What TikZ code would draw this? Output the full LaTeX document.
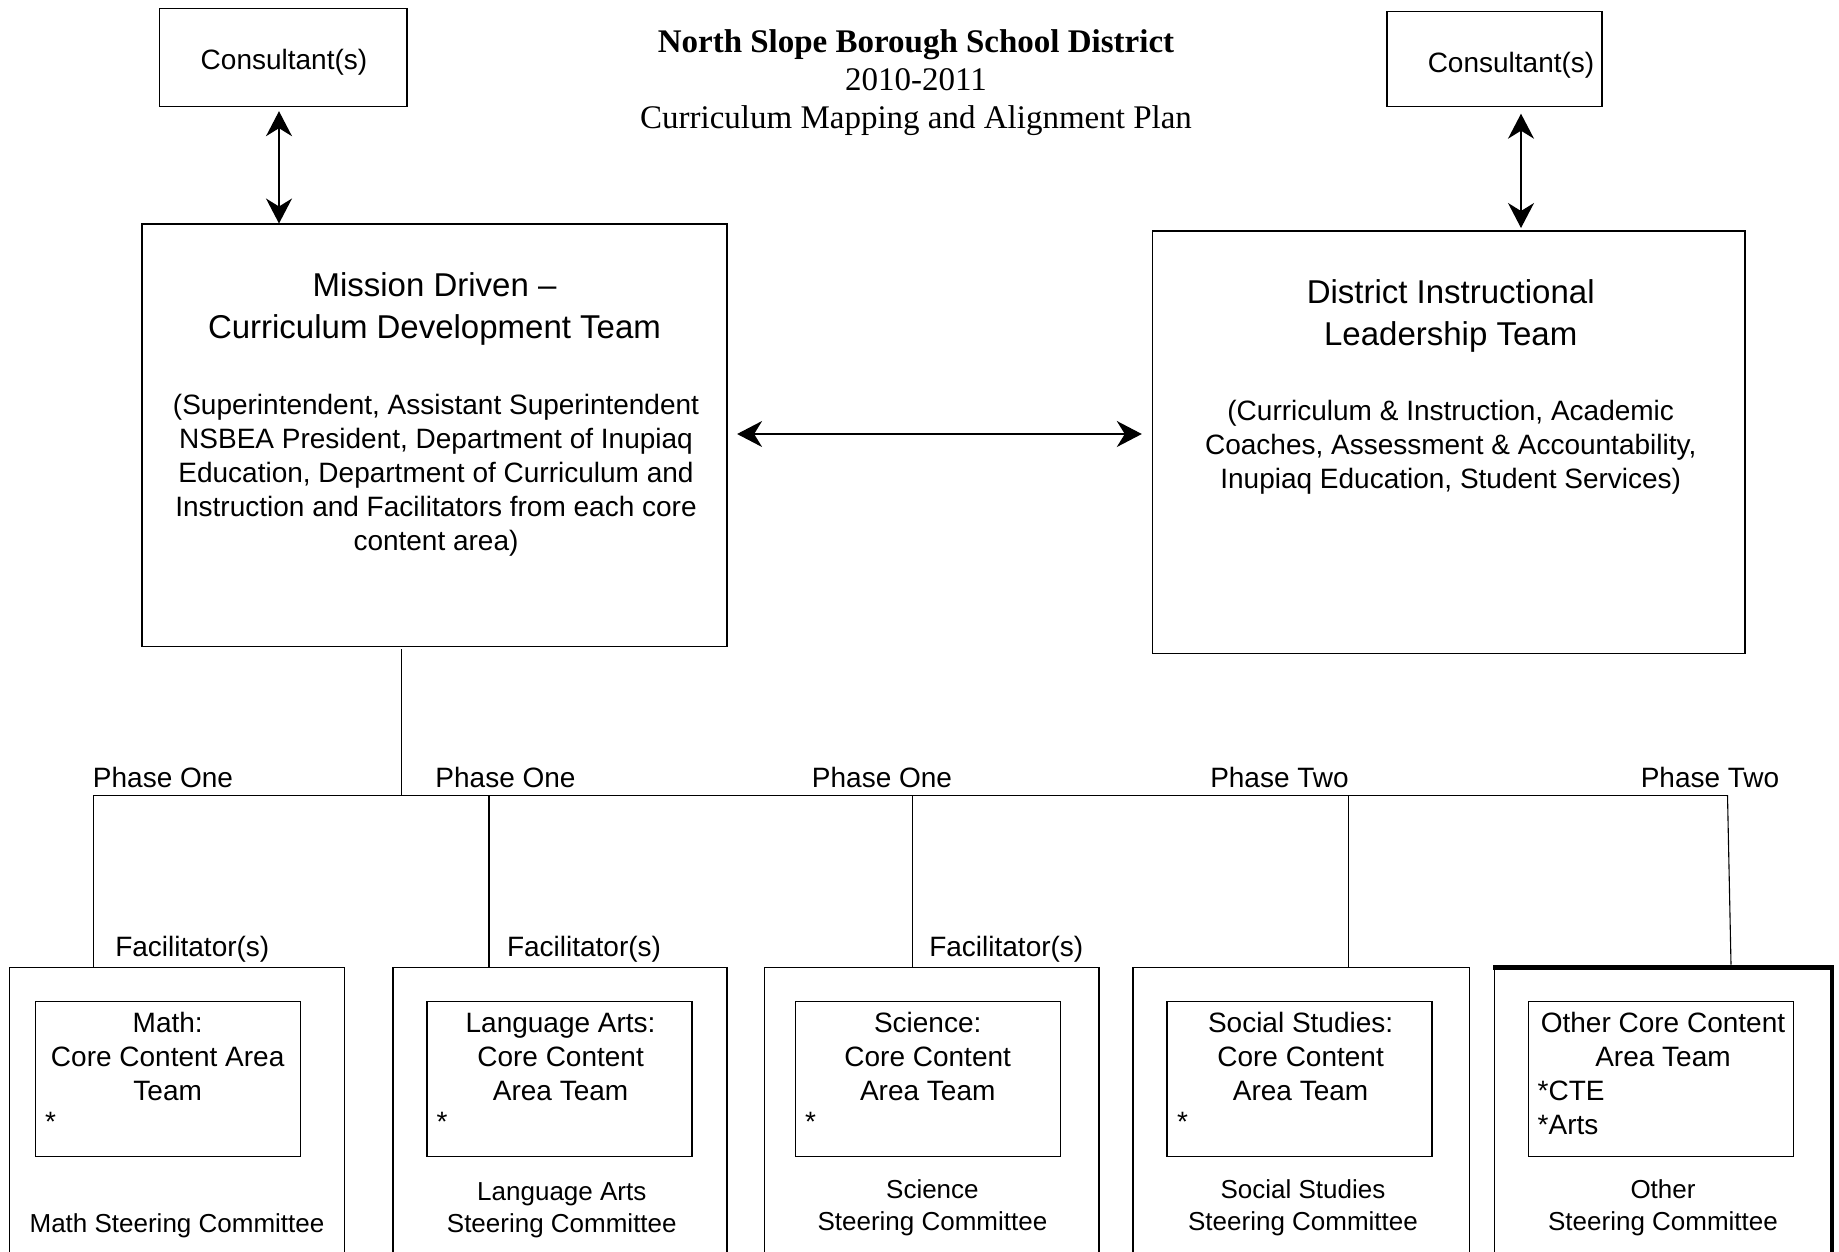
\documentclass[tikz,border=0pt]{standalone}
\usepackage{fontspec}
\setmainfont{Liberation Sans}
\newfontfamily\titlefam{Liberation Serif}
\usetikzlibrary{arrows.meta}
\newcommand{\hdrfont}{\fontsize{33}{42}\selectfont}
\newcommand{\txtfont}{\fontsize{28}{34}\selectfont}
\newcommand{\cmtfont}{\fontsize{26}{32}\selectfont}
\newcommand{\ttlfont}{\titlefam\fontsize{33}{38}\selectfont}
\tikzset{
  box/.style={draw, line width=1.3pt, inner sep=0pt, outer sep=0pt, anchor=north west},
  lbl/.style={font=\txtfont, inner sep=0pt, align=center},
  cmt/.style={font=\cmtfont, inner sep=0pt, align=center},
  conn/.style={line width=1.1pt},
  dbl/.style={line width=1.3pt, {Stealth[length=25pt,width=26pt,inset=8pt]}-{Stealth[length=25pt,width=26pt,inset=8pt]}},
}
\begin{document}
\begin{tikzpicture}[x=1pt,y=-1pt]
\useasboundingbox (0,0) rectangle (1839,1251);
\fill[white] (0,0) rectangle (1839,1251);

% title
\node[font=\ttlfont, align=center, inner sep=0pt] (title) at (916,82.5)
  {\textbf{North Slope Borough School District}\\2010-2011\\Curriculum Mapping and Alignment Plan};

% consultants
\node[box, minimum width=247.5pt, minimum height=98.5pt] (consL) at (159.5,8.2) {};
\node[lbl] (consLt) at (284,62) {Consultant(s)};
\node[box, minimum width=215pt, minimum height=95pt] (consR) at (1387,11.7) {};
\node[lbl] (consRt) at (1511,65.7) {Consultant(s)};

% main boxes
\node[box, minimum width=585.2pt, minimum height=422.2pt] (mission) at (141.9,224) {};
\node[font=\hdrfont, align=center, inner sep=0pt] (missionhead) at (434.5,308.5)
  {Mission Driven –\\Curriculum Development Team};
\node[lbl] (missiontext) at (436,475)
  {(Superintendent, Assistant Superintendent\\NSBEA President, Department of Inupiaq\\Education, Department of Curriculum and\\Instruction and Facilitators from each core\\content area)};

\node[box, minimum width=592.3pt, minimum height=422.2pt] (district) at (1152.8,231) {};
\node[font=\hdrfont, align=center, inner sep=0pt] (districthead) at (1450.7,316)
  {District Instructional\\Leadership Team};
\node[lbl] (districttext) at (1450.7,446.8)
  {(Curriculum \& Instruction, Academic\\Coaches, Assessment \& Accountability,\\Inupiaq Education, Student Services)};

% arrows
\draw[dbl, shorten <=4.5pt, shorten >=0.5pt] (consL.south -| 279,0) -- (mission.north -| 279,0);
\draw[dbl, shorten <=7pt, shorten >=3pt] (consR.south -| 1521,0) -- (district.north -| 1521,0);
\draw[dbl, shorten <=10pt, shorten >=11pt] (mission.east |- 0,434) -- (district.west |- 0,434);

% bus
\coordinate (top) at (401.1,795.2);
\coordinate (bus1) at (93.8,795.2);
\coordinate (bus2) at (489,795.2);
\coordinate (bus3) at (912.4,795.2);
\coordinate (bus4) at (1348.7,795.2);
\coordinate (bus5) at (1727.5,795.2);
\coordinate (end5) at (1731,964.5);
\draw[conn, shorten <=3pt] (mission.south -| top) -- (top);
\draw[conn] (bus1) -- (bus5);

% phase labels
\node[lbl] (p1) at (163,777.6) {Phase One};
\node[lbl] (p2) at (505.5,777.6) {Phase One};
\node[lbl] (p3) at (882,777.6) {Phase One};
\node[lbl] (p4) at (1279.5,777.6) {Phase Two};
\node[lbl] (p5) at (1710,777.6) {Phase Two};

% bottom outer boxes
\node[box, minimum width=335.4pt, minimum height=300pt] (o1) at (9.4,967.6) {};
\node[box, minimum width=334.2pt, minimum height=300pt] (o2) at (392.9,967.6) {};
\node[box, minimum width=334.2pt, minimum height=300pt] (o3) at (764.7,967.6) {};
\node[box, minimum width=336.6pt, minimum height=300pt] (o4) at (1132.9,967.6) {};
\node[box, minimum width=337.7pt, minimum height=300pt] (o5) at (1494.2,967.6) {};
\draw[line width=4.5pt] (o5.north west) ++(-1pt,0) -- (o5.north east) -- (o5.south east);

% drops
\draw[conn] (bus1) -- (bus1 |- o1.north);
\draw[conn] (bus2) -- (bus2 |- o2.north);
\draw[conn] (bus3) -- (bus3 |- o3.north);
\draw[conn] (bus4) -- (bus4 |- o4.north);
\draw[conn] (bus5) -- (end5);

% facilitator labels
\node[lbl] (f1) at (192.3,948.8) {Facilitator(s)};
\node[lbl] (f2) at (584,948.8) {Facilitator(s)};
\node[lbl] (f3) at (1006.3,948.8) {Facilitator(s)};

% inner boxes
\node[box, minimum width=265pt, minimum height=154.8pt] (i1) at (35.2,1001.6) {};
\node[box, minimum width=265pt, minimum height=154.8pt] (i2) at (426.9,1001.6) {};
\node[box, minimum width=265pt, minimum height=154.8pt] (i3) at (795.2,1001.6) {};
\node[box, minimum width=265pt, minimum height=154.8pt] (i4) at (1167,1001.6) {};
\node[box, minimum width=265pt, minimum height=154.8pt] (i5) at (1528.2,1001.6) {};

\node[lbl] (t1) at (167.7,1056.7) {Math:\\Core Content Area\\Team};
\node[lbl] (t2) at (560.6,1056.7) {Language Arts:\\Core Content\\Area Team};
\node[lbl] (t3) at (927.7,1056.7) {Science:\\Core Content\\Area Team};
\node[lbl] (t4) at (1300.6,1056.7) {Social Studies:\\Core Content\\Area Team};
\node[lbl] (t5) at (1663,1039.7) {Other Core Content\\Area Team};
\node[lbl, align=left, anchor=west] (t5b) at (1537.5,1107.7) {*CTE\\*Arts};

\node[lbl, anchor=west] (s1) at (45,1122) {*};
\node[lbl, anchor=west] (s2) at (436.5,1122) {*};
\node[lbl, anchor=west] (s3) at (805,1122) {*};
\node[lbl, anchor=west] (s4) at (1177,1122) {*};

% committees
\node[cmt] (c1) at (177,1225.6) {Math Steering Committee};
\node[cmt] (c2) at (561.8,1209.8) {Language Arts\\Steering Committee};
\node[cmt] (c3) at (932.4,1207.5) {Science\\Steering Committee};
\node[cmt] (c4) at (1303,1207.5) {Social Studies\\Steering Committee};
\node[cmt] (c5) at (1663,1207.5) {Other\\Steering Committee};
\end{tikzpicture}
\end{document}
